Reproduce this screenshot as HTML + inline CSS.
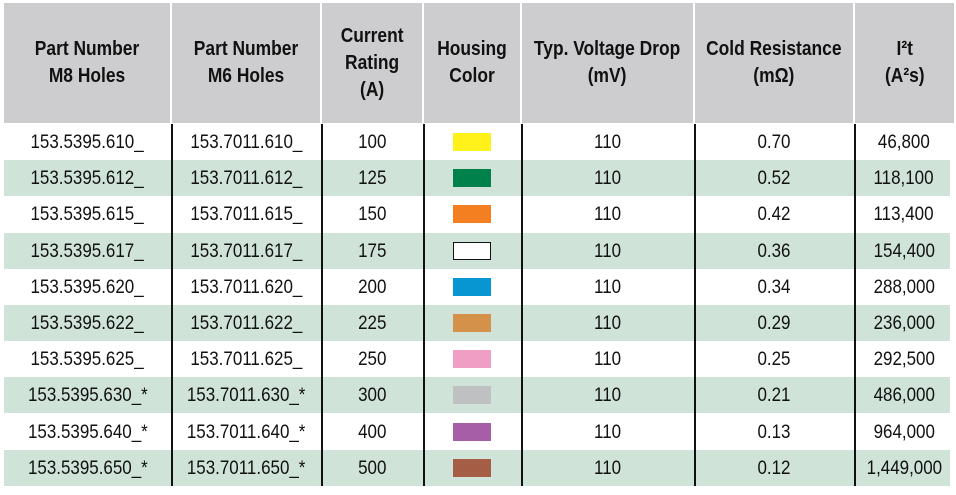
<!DOCTYPE html>
<html><head><style>
body{margin:0;width:956px;height:495px;background:#fff;position:relative;overflow:hidden;font-family:"Liberation Sans Narrow","Liberation Sans",sans-serif;color:#111}
.h{position:absolute;top:3px;height:120px;background:#cdcdcf;display:flex;align-items:center;justify-content:center;text-align:center;font-weight:bold;font-size:20px;line-height:27px}
.h span,.c span{display:inline-block;transform:scaleX(0.87)}
.r{position:absolute;left:4px;width:946px;height:36px}
.g{background:#cfe3d9}
.c{position:absolute;height:36px;line-height:36px;text-align:center;font-size:19.5px;white-space:nowrap}
.v{position:absolute;top:124px;height:362px;width:1.5px;background:#111}
.sw{position:absolute;width:38px;height:18px;top:9px}
</style></head><body>
<div class="h" style="left:4px;width:166px"><span>Part Number<br>M8 Holes</span></div>
<div class="h" style="left:172px;width:148px"><span>Part Number<br>M6 Holes</span></div>
<div class="h" style="left:322px;width:100px"><span>Current<br>Rating<br>(A)</span></div>
<div class="h" style="left:424px;width:96px"><span>Housing<br>Color</span></div>
<div class="h" style="left:522px;width:171px"><span style="white-space:nowrap">Typ. Voltage Drop<br>(mV)</span></div>
<div class="h" style="left:695px;width:158px"><span style="white-space:nowrap">Cold Resistance<br>(mΩ)</span></div>
<div class="h" style="left:855px;width:99px"><span>I²t<br>(A²s)</span></div>
<div id="rows"></div>
<script>
var d=[["153.5395.610_","153.7011.610_","100","#fff21a","0.70","46,800"],
["153.5395.612_","153.7011.612_","125","#00804a","0.52","118,100"],
["153.5395.615_","153.7011.615_","150","#f47f20","0.42","113,400"],
["153.5395.617_","153.7011.617_","175","#ffffff","0.36","154,400"],
["153.5395.620_","153.7011.620_","200","#0796d2","0.34","288,000"],
["153.5395.622_","153.7011.622_","225","#d4914a","0.29","236,000"],
["153.5395.625_","153.7011.625_","250","#f19ec4","0.25","292,500"],
["153.5395.630_*","153.7011.630_*","300","#bfc0c1","0.21","486,000"],
["153.5395.640_*","153.7011.640_*","400","#a65ea6","0.13","964,000"],
["153.5395.650_*","153.7011.650_*","500","#a55d46","0.12","1,449,000"]];
var cols=[[4,167],[171,150],[321,102],[423,98],[521,173],[694,160],[854,100]];
var h="";
d.forEach(function(r,i){var t=124+i*36.2;
h+='<div class="r'+(i%2?' g':'')+'" style="top:'+t+'px"></div>';
var vals=[r[0],r[1],r[2],null,"110",r[4],r[5]];
vals.forEach(function(v,j){if(v===null){h+='<div class="sw" style="left:453px;top:'+(t+9)+'px;background:'+r[3]+';'+(r[3]=="#ffffff"?'border:1px solid #111;width:36px;height:16px':'')+'"></div>';}
else h+='<div class="c" style="top:'+t+'px;left:'+cols[j][0]+'px;width:'+cols[j][1]+'px"><span>'+v+'</span></div>';});});
[171,321,423,521,694,854].forEach(function(x){h+='<div class="v" style="left:'+x+'px"></div>';});
document.getElementById("rows").innerHTML=h;
</script>
<div style="position:absolute;left:171px;top:3px;width:1px;height:120px;background:#fff"></div>
<div style="position:absolute;left:321px;top:3px;width:1px;height:120px;background:#fff"></div>
<div style="position:absolute;left:423px;top:3px;width:1px;height:120px;background:#fff"></div>
<div style="position:absolute;left:521px;top:3px;width:1px;height:120px;background:#fff"></div>
<div style="position:absolute;left:694px;top:3px;width:1px;height:120px;background:#fff"></div>
<div style="position:absolute;left:854px;top:3px;width:1px;height:120px;background:#fff"></div>
</body></html>
